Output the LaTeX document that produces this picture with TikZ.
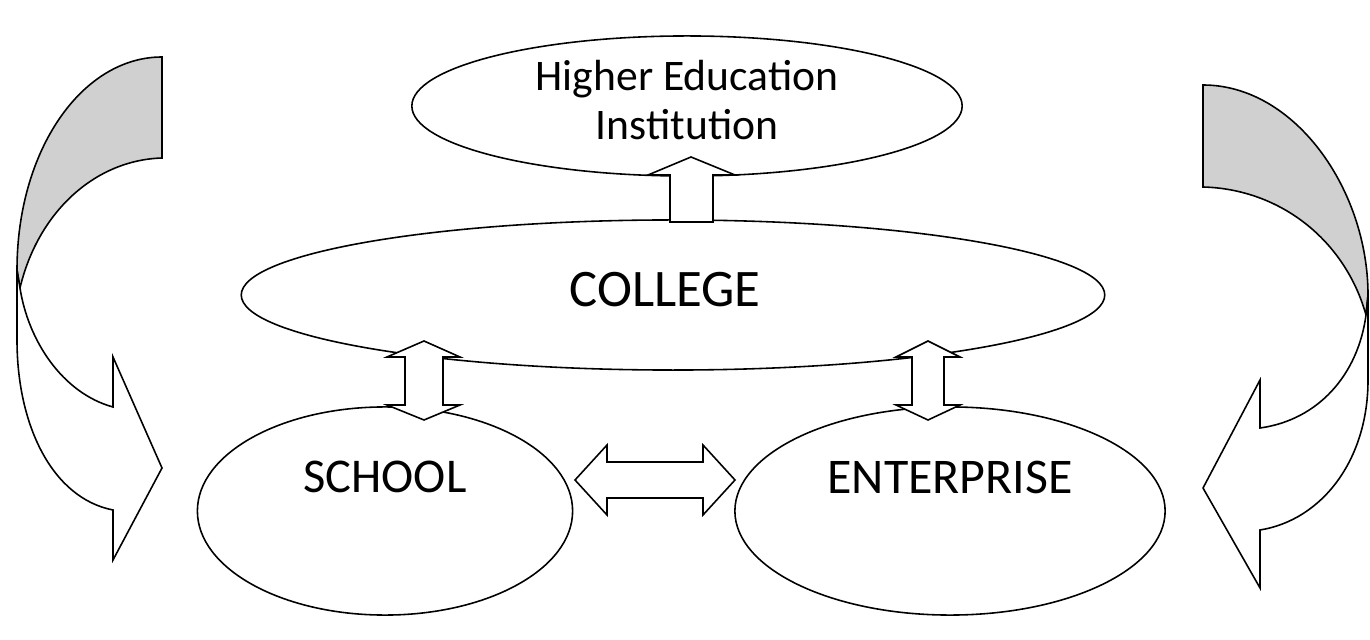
\documentclass[tikz,border=0pt]{standalone}
\usepackage{fontspec}
\setmainfont{Carlito}
\usetikzlibrary{shapes.geometric}
\definecolor{shade}{RGB}{208,208,208}

\begin{document}
\begin{tikzpicture}[
  x=0.01cm, y=-0.01cm,
  oval/.style={ellipse, draw, line width=0.45pt, inner sep=0pt},
  txt/.style={font=\fontsize{13.8}{15}\selectfont, align=center},
  hollow/.style={draw, fill=white, line width=0.45pt, line join=miter},
  curl/.style={draw, line width=0.45pt, line join=miter}
]
\useasboundingbox (0,0) rectangle (1370,640);

% Curved arrows at the sides
\draw[curl, fill=shade] (162,57) -- (162,158) .. controls (95,160) and (38,212) .. (20,288) -- (17,270) .. controls (17,150) and (82,57) .. (162,57) -- cycle;
\draw[curl, fill=white] (20,288) .. controls (28,340) and (62,393) .. (113,407) -- (113,357) -- (162,468) -- (113,560) -- (113,510) .. controls (52,498) and (17,425) .. (17,340) -- (17,270) -- cycle;
\draw[curl, fill=shade] (1203,85) -- (1203,187) .. controls (1280,189) and (1345,240) .. (1366,315) -- (1368,295) .. controls (1368,190) and (1295,85) .. (1203,85) -- cycle;
\draw[curl, fill=white] (1366,315) .. controls (1358,375) and (1318,420) .. (1260,428) -- (1260,380) -- (1203,488) -- (1260,588) -- (1260,530) .. controls (1322,520) and (1368,460) .. (1368,380) -- (1368,295) -- cycle;

% Institutions
\node (hei) at (687,106) [oval, minimum width=5.5cm, minimum height=1.4cm,
  label={[txt, font=\fontsize{12.4}{14.2}\selectfont, yshift=0.06cm]center:Higher Education\\Institution}] {};
\node (college) at (673,295) [oval, minimum width=8.63cm, minimum height=1.5cm,
  label={[txt, font=\fontsize{15}{16}\selectfont, xshift=-0.08cm, yshift=0.05cm]center:COLLEGE}] {};
\node (school) at (385,511) [oval, minimum width=3.75cm, minimum height=2.08cm,
  label={[txt, yshift=0.34cm]center:SCHOOL}] {};
\node (enterprise) at (950,511) [oval, minimum width=4.3cm, minimum height=2.08cm,
  label={[txt, font=\fontsize{14.2}{15}\selectfont, yshift=0.34cm]center:ENTERPRISE}] {};

% Block arrows between them
\coordinate (hei-tip) at (691,157);
\draw[hollow] (hei-tip) -- ++(44,18) -- ++(-22,0) -- ++(0,47) -- ++(-43,0) -- ++(0,-47) -- ++(-22,0) -- cycle;
\coordinate (school-tip) at (424,341);
\draw[hollow] (school-tip) -- ++(36,16) -- ++(-17,0) -- ++(0,48) -- ++(17,0) -- ++(-36,15) -- ++(-37,-15) -- ++(18,0) -- ++(0,-48) -- ++(-18,0) -- cycle;
\coordinate (enterprise-tip) at (928,341);
\draw[hollow] (enterprise-tip) -- ++(32,16) -- ++(-16,0) -- ++(0,48) -- ++(16,0) -- ++(-32,15) -- ++(-32,-15) -- ++(16,0) -- ++(0,-48) -- ++(-16,0) -- cycle;
\coordinate (school-east) at (575,480);
\draw[hollow] (school-east) -- ++(32,-35) -- ++(0,17) -- ++(96,0) -- ++(0,-17) -- ++(32,35) -- ++(-32,35) -- ++(0,-17) -- ++(-96,0) -- ++(0,17) -- cycle;

\end{tikzpicture}
\end{document}
